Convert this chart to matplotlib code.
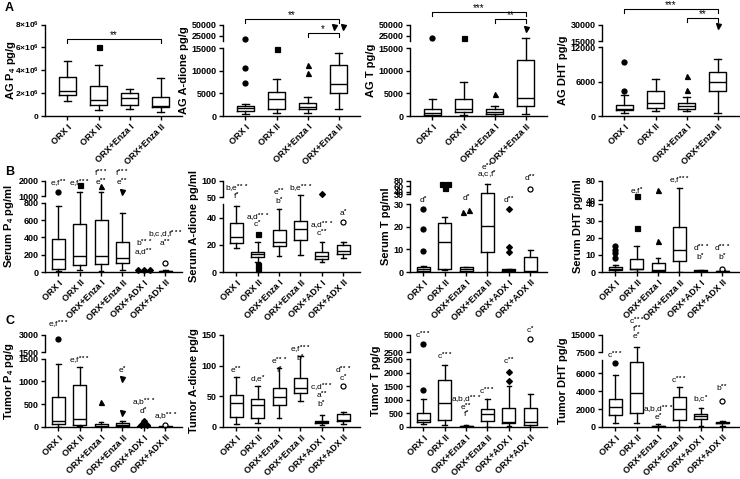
import matplotlib
matplotlib.use("Agg")
import matplotlib.pyplot as plt
import numpy as np

plt.rcParams['font.family'] = ['Liberation Sans', 'DejaVu Sans']
plt.rcParams['mathtext.fontset'] = 'custom'
plt.rcParams['mathtext.rm'] = 'Liberation Sans:bold'
plt.rcParams['mathtext.bf'] = 'Liberation Sans:bold'
plt.rcParams['mathtext.it'] = 'Liberation Sans:italic'

groups = ["ORX I", "ORX II", "ORX+Enza I", "ORX+Enza II", "ORX+ADX I", "ORX+ADX II"]
markers = ['o', 's', '^', 'v', 'D', 'o']

# box stats per group: (whisker low, q1, median, q3, whisker high)
ag_p4 = [(1.3e6, 1.8e6, 2.2e6, 3.45e6, 4.8e6), (0.5e6, 1.0e6, 1.4e6, 2.6e6, 4.5e6),
         (0.6e6, 1.0e6, 1.55e6, 2.0e6, 2.4e6), (0.35e6, 0.75e6, 0.85e6, 1.7e6, 3.3e6)]
ag_p4_out = [[], [6.0e6], [], []]
ag_adione = [(500, 1100, 1800, 2300, 2600), (700, 1500, 3700, 5400, 8200),
             (600, 1500, 2100, 2900, 4100), (1600, 5000, 7000, 11300, 14000)]
ag_adione_out = [[7300, 10700, 19000], [14800], [9600, 11300], [45000, 45500]]
ag_t = [(0, 300, 700, 1500, 3700), (200, 900, 1500, 3700, 7600),
        (100, 400, 900, 1500, 2200), (500, 2300, 3900, 12500, 20700)]
ag_t_out = [[20500], [20500], [4800], [40000]]
ag_dht = [(500, 1000, 1300, 1900, 3600), (800, 1400, 2300, 4300, 6500),
          (800, 1200, 1800, 2300, 3300), (500, 4400, 5900, 7600, 10000)]
ag_dht_out = [[4300, 9400], [], [4600, 7000], [28500]]

serum_p4 = [(10, 40, 145, 385, 760), (20, 80, 185, 560, 1270), (10, 90, 180, 600, 1270),
            (20, 100, 160, 345, 680), (0, 2, 5, 8, 12), (0, 3, 6, 12, 25)]
serum_p4_out = [[1270], [1730], [1690], [1270], [18, 20, 22], [105]]
serum_adione = [(18, 21.5, 26, 36, 49), (7.5, 11, 13, 15, 22.5), (12, 19.5, 22.5, 31, 47),
                (12.5, 23.5, 31.5, 38, 57), (7.5, 9.5, 12, 14.5, 22), (10.5, 13.5, 15.5, 20, 22)]
serum_adione_out = [[], [28, 5, 2], [], [], [60], [37]]
serum_t = [(0, 0.5, 1.2, 2, 2.5), (1.0, 1.3, 13.3, 21.8, 24.5), (0, 0.5, 1.2, 2, 2.3),
           (0, 9, 20.5, 33, 70), (0, 0.3, 0.8, 1.3, 1.5), (0, 0, 0.3, 6.5, 9.8)]
serum_t_out = [[9.5, 19, 28], [52, 67, 68], [26.5, 27.5], [], [9, 11, 28], [51]]
serum_dht = [(0, 1, 2, 3, 4), (0, 1.5, 2, 7.5, 15), (0, 0.5, 1, 5.5, 8),
             (0, 6.5, 13, 26.5, 65), (0, 0.2, 0.5, 1.0, 1.2), (0, 0.2, 0.4, 0.8, 1.0)]
serum_dht_out = [[8.5, 11, 13, 15.5], [26, 50], [18, 62], [], [], [2]]

tumor_p4 = [(10, 60, 130, 650, 1370), (20, 50, 170, 930, 1320), (0, 10, 30, 60, 100),
            (0, 20, 50, 80, 130), (0, 5, 15, 25, 35), (0, 3, 8, 15, 25)]
tumor_p4_out = [[2650], [], [540], [310, 1060], [40, 50, 130], [37]]
tumor_adione = [(5, 17, 39, 52, 82), (6, 15, 36, 45, 67), (15, 36, 49, 64, 97),
                (42, 55, 63, 80, 115), (3, 7, 8.5, 10, 19), (5, 9, 11, 22, 24)]
tumor_adione_out = [[], [], [], [], [], [67]]
tumor_t = [(120, 180, 250, 520, 1050), (60, 250, 900, 1750, 2300), (0, 5, 20, 40, 60),
           (0, 230, 480, 660, 1030), (30, 130, 200, 700, 1500), (0, 80, 200, 700, 1220)]
tumor_t_out = [[1380, 3700], [], [], [], [1700, 2030], [4400]]
tumor_dht = [(400, 1300, 2200, 3150, 5800), (450, 1600, 3800, 7200, 9800), (0, 30, 70, 120, 300),
             (50, 800, 1950, 3300, 4400), (100, 900, 1200, 1500, 2100), (100, 450, 500, 600, 700)]
tumor_dht_out = [[7100], [], [], [], [], [2900]]

# significance letters: (group, text, height in axes fraction)
notes_serum_p4 = [(0, "e,f**", 0.97), (1, "e,f***", 0.97), (2, "f***", 1.08), (2, "e**", 0.99),
                  (3, "f***", 1.08), (3, "e**", 0.98), (4, "b***", 0.31), (4, "a,d**", 0.21),
                  (5, "b,c,d,f***", 0.41), (5, "a**", 0.32)]
notes_serum_adione = [(0, "b,e***", 0.91), (0, "f*", 0.835), (1, "a,d***", 0.60), (1, "c*", 0.52),
                      (2, "e**", 0.87), (2, "b*", 0.78), (3, "b,e***", 0.91),
                      (4, "a,d***", 0.505), (4, "c**", 0.425), (5, "a*", 0.645)]
notes_serum_t = [(0, "d*", 0.79), (2, "d*", 0.81), (3, "e**", 1.15), (3, "a,c,f*", 1.07),
                 (4, "d**", 0.79), (5, "d**", 1.03)]
notes_serum_dht = [(1, "e,f*", 0.88), (3, "e,f***", 1.0), (4, "d***", 0.26), (4, "b*", 0.16),
                   (5, "d***", 0.26), (5, "b*", 0.16)]
notes_tumor_p4 = [(0, "e,f***", 1.11), (1, "e,f***", 0.72), (3, "e*", 0.62), (4, "a,b***", 0.26),
                  (4, "d*", 0.17), (5, "a,b***", 0.11)]
notes_tumor_adione = [(0, "e**", 0.62), (1, "d,e*", 0.51), (2, "e***", 0.71), (2, "f*", 0.62),
                      (3, "e,f***", 0.84), (3, "b*", 0.75), (4, "c,d***", 0.42), (4, "a**", 0.34),
                      (4, "b*", 0.25), (5, "d***", 0.62), (5, "c*", 0.53)]
notes_tumor_t = [(0, "c***", 1.0), (1, "c***", 0.77), (2, "a,b,d***", 0.29), (2, "e**", 0.21),
                 (2, "f*", 0.14), (3, "c***", 0.39), (4, "c**", 0.71), (5, "c*", 1.05)]
notes_tumor_dht = [(0, "c***", 0.78), (1, "c***", 1.145), (1, "f**", 1.065), (1, "e*", 0.98),
                   (2, "a,b,d***", 0.185), (2, "e*", 0.11), (3, "c***", 0.51), (4, "b,c*", 0.29),
                   (5, "b**", 0.42)]

# brackets: (from group, to group, height in axes fraction, stars)
br_p4 = [(0, 3, 0.84, "**")]
br_adione = [(0, 3, 1.06, "**"), (2, 3, 0.905, "*")]
br_t = [(0, 3, 1.14, "***"), (2, 3, 1.06, "**")]
br_dht = [(0, 3, 1.17, "***"), (2, 3, 1.07, "**")]


def make_scale(b1, b2, top, h1, g):
    up = 1 - h1 - g
    span = max(b2 - b1, 1e-12)

    def fwd(v):
        v = np.asarray(v, float)
        lo = v / b1 * h1
        mid = h1 + (v - b1) / span * g
        hi = h1 + g + (v - b2) / (top - b2) * up
        return np.where(v <= b1, lo, np.where(v < b2, mid, hi))

    def inv(u):
        u = np.asarray(u, float)
        lo = u / h1 * b1
        mid = b1 + (u - h1) / g * span
        hi = b2 + (u - h1 - g) / up * (top - b2)
        return np.where(u <= h1, lo, np.where(u < h1 + g, mid, hi))
    return fwd, inv


def star_text(s):
    letters = s.rstrip('*')
    stars = s[len(letters):]
    return letters + (r"$^{%s}$" % stars if stars else "")


def draw_panel(ax, box, out, ylabel, top, yticks, ylabels, brk=None, notes=(), brackets=(),
               label_x=None, ytick_size=6.5):
    n = len(box)
    pos = np.arange(1, n + 1)
    if brk is not None:
        b1, b2, h1, g = brk
        fwd, inv = make_scale(b1, b2, top, h1, g)
        ax.set_yscale('function', functions=(fwd, inv))
    else:
        fwd = lambda v: np.asarray(v, float) / top
    ax.set_ylim(0, top)
    if n == 4:
        ax.set_xlim(0.28, 4.68)
        w = 0.55
    else:
        ax.set_xlim(0.38, 6.78)
        w = 0.6

    stats = [dict(whislo=b[0], q1=b[1], med=b[2], q3=b[3], whishi=b[4], fliers=[]) for b in box]
    lp = dict(color='black', linewidth=1.0)
    ax.bxp(stats, positions=pos, widths=w, showfliers=False, capwidths=0.22,
           boxprops=lp, whiskerprops=lp, capprops=lp, medianprops=lp)

    # outliers, points at nearly the same height are spread sideways
    for i, vals in enumerate(out):
        if not vals:
            continue
        vals = sorted(vals)
        u = fwd(vals)
        clusters = [[vals[0]]]
        last = u[0]
        for v, uu in zip(vals[1:], u[1:]):
            if uu - last < 0.03:
                clusters[-1].append(v)
            else:
                clusters.append([v])
            last = uu
        for c in clusters:
            offs = (np.arange(len(c)) - (len(c) - 1) / 2) * 0.28
            mfc = 'white' if i == 5 else 'black'
            ms = 3.0 if markers[i] == 'D' else 3.6
            ax.plot(pos[i] + offs, c, linestyle='none', marker=markers[i], ms=ms,
                    mfc=mfc, mec='black', mew=0.9, clip_on=False)

    for side in ['top', 'right']:
        ax.spines[side].set_visible(False)
    ax.spines['left'].set_linewidth(1.0)
    ax.spines['bottom'].set_linewidth(1.0)
    if brk is not None:
        ax.spines['left'].set_bounds(0, brk[0])
        ax.plot([0, 0], [brk[1], top], color='black', lw=1.0,
                transform=ax.get_yaxis_transform(), clip_on=False)

    ax.set_yticks(yticks, ylabels)
    ax.set_xticks(pos, groups[:n])
    ax.tick_params(axis='both', direction='out', length=3, width=1.0, labelsize=6.5, pad=1.5)
    ax.tick_params(axis='y', labelsize=ytick_size)
    for lab in ax.get_xticklabels():
        lab.set_rotation(45)
        lab.set_ha('right')
        lab.set_rotation_mode('anchor')
        lab.set_fontweight('bold')
    for lab in ax.get_yticklabels():
        lab.set_fontweight('bold')
    ax.set_ylabel(ylabel, fontsize=8, fontweight='bold', labelpad=2)
    if label_x is not None:
        ax.yaxis.set_label_coords(label_x, 0.5)

    tr = ax.get_xaxis_transform()
    for i, s, y in notes:
        ax.text(pos[i], y, star_text(s), transform=tr, ha='center', va='center',
                fontsize=6, clip_on=False)
    for i, j, y, s in brackets:
        ax.plot([pos[i], pos[i], pos[j], pos[j]], [y - 0.045, y, y, y - 0.045],
                color='black', lw=0.8, transform=tr, clip_on=False)
        ax.text((pos[i] + pos[j]) / 2, y - 0.015, s, transform=tr, ha='center', va='bottom',
                fontsize=7, clip_on=False)


fig = plt.figure(figsize=(7.4, 4.79), dpi=100)
W, H = 740.0, 479.0
lefts = [45, 223, 410, 602]
rows = [(116, 91.5), (272, 91), (427, 92)]


def new_ax(col, row):
    bottom, h = rows[row]
    return fig.add_axes([lefts[col] / W, 1 - bottom / H, 137 / W, h / H])


m = "×10$^{6}$"
draw_panel(new_ax(0, 0), ag_p4, ag_p4_out, "AG P$_4$ pg/g", 8e6,
           [0, 2e6, 4e6, 6e6, 8e6], ["0", "2" + m, "4" + m, "6" + m, "8" + m], brackets=br_p4,
           label_x=-0.2, ytick_size=6)
draw_panel(new_ax(1, 0), ag_adione, ag_adione_out, "AG A-dione pg/g", 50000,
           [0, 5000, 10000, 15000, 25000, 50000], ["0", "5000", "10000", "15000", "25000", "50000"],
           brk=(15000, 15000.01, 0.74, 0.085), brackets=br_adione)
draw_panel(new_ax(2, 0), ag_t, ag_t_out, "AG T pg/g", 50000,
           [0, 5000, 10000, 15000, 25000, 50000], ["0", "5000", "10000", "15000", "25000", "50000"],
           brk=(15000, 15000.01, 0.74, 0.085), brackets=br_t)
draw_panel(new_ax(3, 0), ag_dht, ag_dht_out, "AG DHT pg/g", 30000,
           [0, 6000, 12000, 15000, 30000], ["0", "6000", "12000", "15000", "30000"],
           brk=(12000, 15000, 0.752, 0.065), brackets=br_dht)

draw_panel(new_ax(0, 1), serum_p4, serum_p4_out, "Serum P$_4$ pg/ml", 2000,
           [0, 200, 400, 600, 800, 1000, 2000], ["0", "200", "400", "600", "800", "1000", "2000"],
           brk=(800, 1000, 0.76, 0.073), notes=notes_serum_p4)
draw_panel(new_ax(1, 1), serum_adione, serum_adione_out, "Serum A-dione pg/ml", 100,
           [0, 20, 40, 50.001, 100], ["0", "20", "40", "50", "100"],
           brk=(50, 50.001, 0.742, 0.082), notes=notes_serum_adione)
draw_panel(new_ax(2, 1), serum_t, serum_t_out, "Serum T pg/ml", 80,
           [0, 10, 20, 30, 30.001, 40, 60, 80], ["0", "10", "20", "30", "30", "40", "60", "80"],
           brk=(30, 30.001, 0.744, 0.11), notes=notes_serum_t)
draw_panel(new_ax(3, 1), serum_dht, serum_dht_out, "Serum DHT pg/ml", 80,
           [0, 10, 20, 30, 40, 40.001, 80], ["0", "10", "20", "30", "40", "40", "80"],
           brk=(40, 40.001, 0.749, 0.037), notes=notes_serum_dht)

draw_panel(new_ax(0, 2), tumor_p4, tumor_p4_out, "Tumor P$_4$ pg/g", 3000,
           [0, 500, 1000, 1500, 1500.01, 3000], ["0", "500", "1000", "1500", "1500", "3000"],
           brk=(1500, 1500.01, 0.744, 0.066), notes=notes_tumor_p4)
draw_panel(new_ax(1, 2), tumor_adione, tumor_adione_out, "Tumor A-dione pg/g", 150,
           [0, 50, 100, 150], ["0", "50", "100", "150"], notes=notes_tumor_adione)
draw_panel(new_ax(2, 2), tumor_t, tumor_t_out, "Tumor T pg/g", 5000,
           [0, 500, 1000, 1500, 2000, 2500, 2500.01, 5000],
           ["0", "500", "1000", "1500", "2000", "2500", "2500", "5000"],
           brk=(2500, 2500.01, 0.736, 0.077), notes=notes_tumor_t)
draw_panel(new_ax(3, 2), tumor_dht, tumor_dht_out, "Tumor DHT pg/g", 15000,
           [0, 2000, 4000, 6000, 7500.01, 15000], ["0", "2000", "4000", "6000", "7500", "15000"],
           brk=(7500, 7500.01, 0.733, 0.08), notes=notes_tumor_dht)

for letter, y in [("A", 8), ("B", 172), ("C", 321)]:
    fig.text(5 / W, 1 - y / H, letter, fontsize=9, fontweight='bold', va='center', ha='left')

fig.savefig("out.png", dpi=100)
